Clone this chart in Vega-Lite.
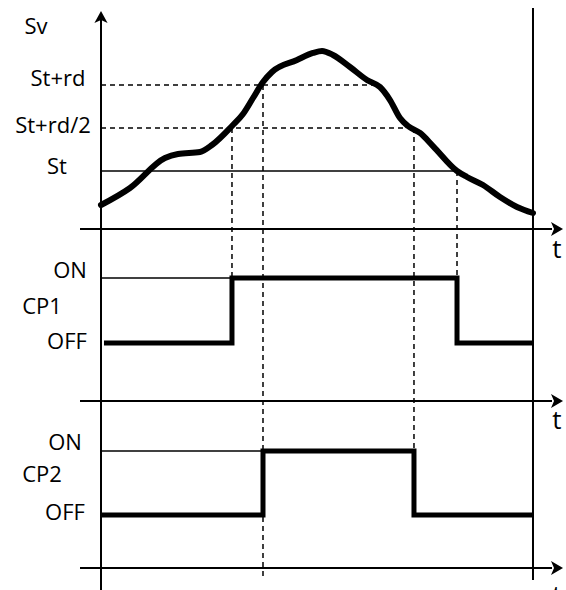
{
  "$schema": "https://vega.github.io/schema/vega-lite/v6.json",
  "width": 566,
  "height": 590,
  "padding": 0,
  "autosize": {"type": "none"},
  "background": "white",
  "config": {"view": {"stroke": null}},
  "datasets": {
    "rules": [
      {"kind": "axis", "t": 0, "L": 0, "t2": 0, "L2": 97.3},
      {"kind": "axis", "t": -4.86, "L": 61.19, "t2": 104.4, "L2": 61.19},
      {"kind": "axis", "t": -4.86, "L": 32.03, "t2": 104.4, "L2": 32.03},
      {"kind": "axis", "t": -4.86, "L": 3.73, "t2": 104.4, "L2": 3.73},
      {"kind": "end", "t": 100, "L": 1.69, "t2": 100, "L2": 98.64},
      {"kind": "ref", "t": 0, "L": 71.02, "t2": 82.41, "L2": 71.02},
      {"kind": "ref", "t": 0, "L": 52.88, "t2": 30.32, "L2": 52.88},
      {"kind": "ref", "t": 0, "L": 23.56, "t2": 37.5, "L2": 23.56},
      {"kind": "guide", "t": 0, "L": 85.59, "t2": 62.96, "L2": 85.59},
      {"kind": "guide", "t": 0, "L": 78.31, "t2": 71.06, "L2": 78.31},
      {"kind": "guide", "t": 30.32, "L": 78.31, "t2": 30.32, "L2": 41.86},
      {"kind": "guide", "t": 37.5, "L": 85.59, "t2": 37.5, "L2": 1.69},
      {"kind": "guide", "t": 72.45, "L": 78.31, "t2": 72.45, "L2": 12.71},
      {"kind": "guide", "t": 82.41, "L": 71.02, "t2": 82.41, "L2": 41.86}
    ],
    "curve": [
      {"t": 0, "L": 65.25},
      {"t": 6.71, "L": 68.14},
      {"t": 14.81, "L": 73.22},
      {"t": 17.82, "L": 73.9},
      {"t": 22.92, "L": 74.24},
      {"t": 25.69, "L": 75.42},
      {"t": 30.32, "L": 78.64},
      {"t": 32.87, "L": 80.68},
      {"t": 35.19, "L": 83.39},
      {"t": 37.5, "L": 86.1},
      {"t": 39.58, "L": 87.8},
      {"t": 45.37, "L": 89.83},
      {"t": 49.07, "L": 91.02},
      {"t": 51.16, "L": 91.36},
      {"t": 53.7, "L": 90.68},
      {"t": 57.64, "L": 88.64},
      {"t": 61.57, "L": 86.44},
      {"t": 64.58, "L": 85.25},
      {"t": 66.9, "L": 83.05},
      {"t": 69.21, "L": 80.0},
      {"t": 71.06, "L": 78.64},
      {"t": 73.84, "L": 77.46},
      {"t": 76.85, "L": 75.25},
      {"t": 82.41, "L": 71.02},
      {"t": 84.72, "L": 70.0},
      {"t": 88.43, "L": 68.64},
      {"t": 92.36, "L": 66.61},
      {"t": 96.3, "L": 64.92},
      {"t": 100, "L": 63.9}
    ],
    "steps": [
      {"series": "CP1", "seq": 1, "t": 0.69, "L": 41.86},
      {"series": "CP1", "seq": 2, "t": 30.32, "L": 41.86},
      {"series": "CP1", "seq": 3, "t": 30.32, "L": 52.88},
      {"series": "CP1", "seq": 4, "t": 82.41, "L": 52.88},
      {"series": "CP1", "seq": 5, "t": 82.41, "L": 41.86},
      {"series": "CP1", "seq": 6, "t": 100, "L": 41.86},
      {"series": "CP2", "seq": 1, "t": 0, "L": 12.71},
      {"series": "CP2", "seq": 2, "t": 37.5, "L": 12.71},
      {"series": "CP2", "seq": 3, "t": 37.5, "L": 23.56},
      {"series": "CP2", "seq": 4, "t": 72.45, "L": 23.56},
      {"series": "CP2", "seq": 5, "t": 72.45, "L": 12.71},
      {"series": "CP2", "seq": 6, "t": 100, "L": 12.71}
    ],
    "arrows": [
      {"dir": "up", "t": 0, "L": 97.12},
      {"dir": "right", "t": 105.56, "L": 61.19},
      {"dir": "right", "t": 105.56, "L": 32.03},
      {"dir": "right", "t": 105.56, "L": 3.73}
    ],
    "labels": [
      {"role": "level", "label": "Sv", "t": -15.05, "L": 95.42},
      {"role": "level", "label": "St+rd", "t": -9.95, "L": 86.61},
      {"role": "level", "label": "St+rd/2", "t": -11.11, "L": 78.64},
      {"role": "level", "label": "St", "t": -10.19, "L": 71.69},
      {"role": "level", "label": "ON", "t": -7.18, "L": 54.07},
      {"role": "level", "label": "CP1", "t": -13.66, "L": 47.97},
      {"role": "level", "label": "OFF", "t": -7.87, "L": 42.03},
      {"role": "level", "label": "ON", "t": -8.33, "L": 24.92},
      {"role": "level", "label": "CP2", "t": -13.66, "L": 19.49},
      {"role": "level", "label": "OFF", "t": -8.33, "L": 13.05},
      {"role": "time", "label": "t", "t": 105.56, "L": 57.63},
      {"role": "time", "label": "t", "t": 105.56, "L": 28.64},
      {"role": "time", "label": "t", "t": 105.56, "L": -1.02}
    ]
  },
  "encoding": {
    "x": {"field": "t", "type": "quantitative", "axis": null, "scale": {"domain": [-23.38, 107.64], "nice": false, "zero": false}},
    "y": {"field": "L", "type": "quantitative", "axis": null, "scale": {"domain": [0, 100], "nice": false, "zero": false}}
  },
  "layer": [
    {
      "data": {"name": "rules"},
      "transform": [{"filter": "datum.kind === 'guide'"}],
      "mark": {"type": "rule", "color": "black", "strokeWidth": 1.5, "strokeDash": [5, 4]},
      "encoding": {"x2": {"field": "t2"}, "y2": {"field": "L2"}}
    },
    {
      "data": {"name": "rules"},
      "transform": [{"filter": "datum.kind === 'ref'"}],
      "mark": {"type": "rule", "color": "black", "strokeWidth": 1.3},
      "encoding": {"x2": {"field": "t2"}, "y2": {"field": "L2"}}
    },
    {
      "data": {"name": "rules"},
      "transform": [{"filter": "datum.kind === 'axis' || datum.kind === 'end'"}],
      "mark": {"type": "rule", "color": "black", "strokeWidth": 2},
      "encoding": {"x2": {"field": "t2"}, "y2": {"field": "L2"}}
    },
    {
      "data": {"name": "curve"},
      "mark": {"type": "line", "color": "black", "strokeWidth": 6, "interpolate": "monotone", "strokeCap": "round", "strokeJoin": "round"},
      "encoding": {}
    },
    {
      "data": {"name": "steps"},
      "mark": {"type": "line", "color": "black", "strokeWidth": 5, "strokeJoin": "miter", "strokeCap": "butt"},
      "encoding": {"detail": {"field": "series"}, "order": {"field": "seq", "type": "quantitative"}}
    },
    {
      "data": {"name": "arrows"},
      "transform": [{"filter": "datum.dir === 'up'"}],
      "mark": {"type": "point", "filled": true, "color": "black", "opacity": 1, "size": 144, "strokeWidth": 0, "shape": "M0,-1L1.1,1L0,0.5L-1.1,1Z"},
      "encoding": {}
    },
    {
      "data": {"name": "arrows"},
      "transform": [{"filter": "datum.dir === 'right'"}],
      "mark": {"type": "point", "filled": true, "color": "black", "opacity": 1, "size": 144, "strokeWidth": 0, "shape": "M1,0L-1,1.15L-0.5,0L-1,-1.15Z"},
      "encoding": {}
    },
    {
      "data": {"name": "labels"},
      "transform": [{"filter": "datum.role === 'level'"}],
      "mark": {"type": "text", "font": "Open Sans", "fontSize": 22, "color": "black", "align": "center", "baseline": "middle"},
      "encoding": {"text": {"field": "label"}}
    },
    {
      "data": {"name": "labels"},
      "transform": [{"filter": "datum.role === 'time'"}],
      "mark": {"type": "text", "font": "Open Sans", "fontSize": 26, "color": "black", "align": "center", "baseline": "middle"},
      "encoding": {"text": {"field": "label"}}
    }
  ]
}
